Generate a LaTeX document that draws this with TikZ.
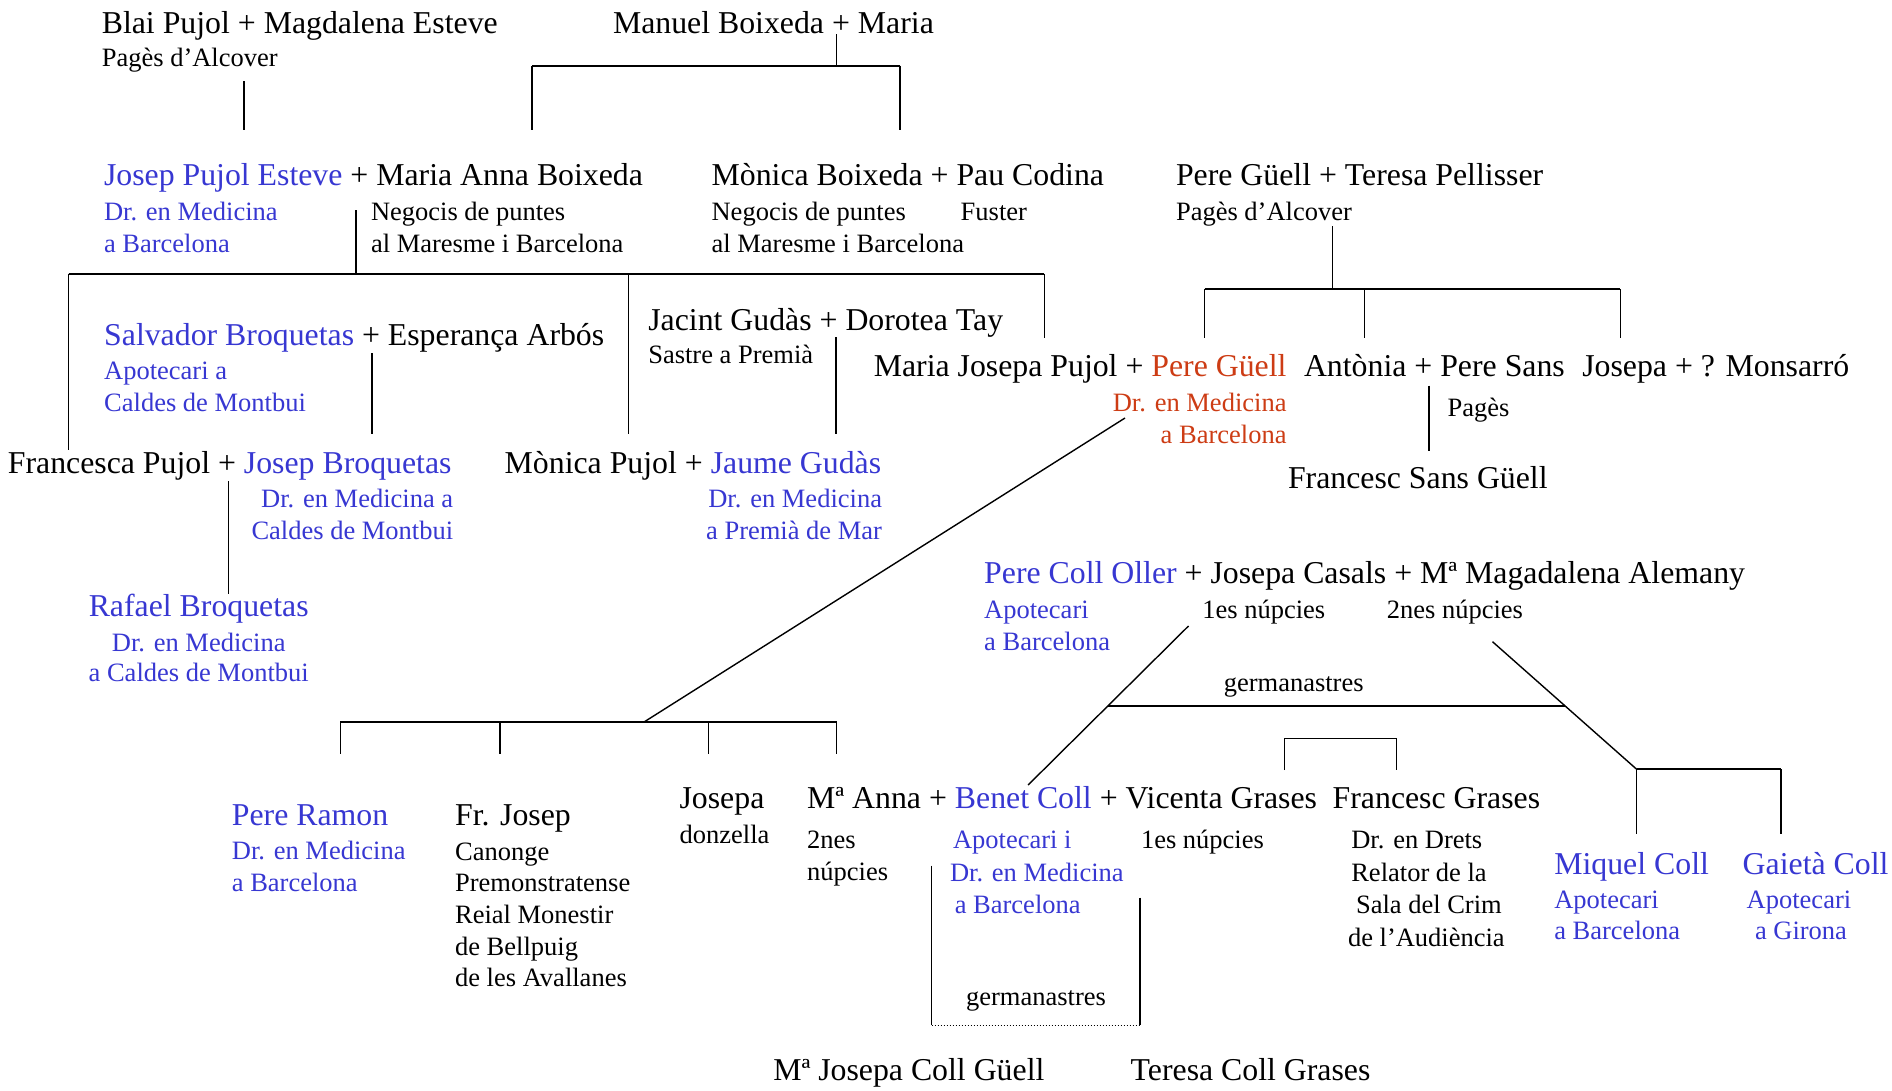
\documentclass[tikz,border=0pt]{standalone}
\usepackage{fontspec}
\setmainfont{Liberation Serif}
\usetikzlibrary{calc}
\definecolor{nblue}{RGB}{55,55,210}
\definecolor{nred}{RGB}{205,60,20}
\newcommand\mainsz{\fontsize{31.8}{36}\selectfont}
\newcommand\subsz{\fontsize{26.5}{30}\selectfont}
\newcommand\bl[1]{\textcolor{nblue}{#1}}
\newcommand\rd[1]{\textcolor{nred}{#1}}
\tikzset{
  nm/.style={inner sep=0pt, outer sep=0pt, anchor=base west, font=\mainsz},
  sb/.style={inner sep=0pt, outer sep=0pt, anchor=base west, font=\subsz},
  bsb/.style={sb, text=nblue},
  ln/.style={line width=1.4pt},
  bar/.style={line width=2pt},
  dotln/.style={line width=1pt, dotted},
}
\begin{document}
\begin{tikzpicture}[x=1pt,y=-1pt]
\path[use as bounding box, fill=white] (0,0) rectangle (1892,1090);

% ---------- generation 1 ----------
\node[nm] (blai) at (101.8,33.3) {Blai Pujol + Magdalena Esteve};
\node[sb] (blaiS) at (101.8,66.7) {Pagès d’Alcover};
\node[nm] (manuel) at (613,33.3) {Manuel Boixeda + Maria};
\node[nm] (pereG) at (1176,185.5) {Pere Güell + Teresa Pellisser};
\node[sb] (pereGS) at (1176,220) {Pagès d’Alcover};

% ---------- generation 2 ----------
\node[nm] (josep) at (104,185.5) {\bl{Josep Pujol Esteve} + Maria Anna Boixeda};
\node[bsb] (josepS1) at (104,220) {Dr. en Medicina};
\node[bsb] (josepS2) at (104,252) {a Barcelona};
\node[sb] (mannaS1) at (371,220) {Negocis de puntes};
\node[sb] (mannaS2) at (371,252) {al Maresme i Barcelona};
\node[nm] (monicaB) at (711.6,185.5) {Mònica Boixeda + Pau Codina};
\node[sb] (monicaBS1) at (711.6,220) {Negocis de puntes};
\node[sb] (pauS) at (960.7,220) {Fuster};
\node[sb] (monicaBS2) at (711.6,252) {al Maresme i Barcelona};

% ---------- in-laws ----------
\node[nm] (salvador) at (104.2,345) {\bl{Salvador Broquetas} + Esperança Arbós};
\node[bsb] (salvS1) at (104.2,379.3) {Apotecari a};
\node[bsb] (salvS2) at (104.2,411) {Caldes de Montbui};
\node[nm] (jacint) at (648.3,330) {Jacint Gudàs + Dorotea Tay};
\node[sb] (jacintS) at (648.3,363.3) {Sastre a Premià};

% ---------- generation 3 ----------
\node[nm, anchor=base east] (mjosepa) at (1286.5,376.7) {Maria Josepa Pujol + \rd{Pere Güell}};
\node[sb, text=nred, anchor=base east] (pgS1) at (1286.5,411.7) {Dr. en Medicina};
\node[sb, text=nred, anchor=base east] (pgS2) at (1286.5,443) {a Barcelona};
\node[nm] (antonia) at (1304,376.7) {Antònia + Pere Sans};
\node[nm] (josepaM) at (1582.3,376.7) {Josepa + ? Monsarró};
\node[sb] (antoniaS) at (1447.5,416.7) {Pagès};
\node[nm] (francescS) at (1288,488.3) {Francesc Sans Güell};

\node[nm] (francesca) at (7.9,473.3) {Francesca Pujol + \bl{Josep Broquetas}};
\node[bsb, anchor=base east] (jbS1) at (453.2,507.7) {Dr. en Medicina a};
\node[bsb, anchor=base east] (jbS2) at (453.2,539.3) {Caldes de Montbui};
\node[nm] (monicaP) at (504.7,473.3) {Mònica Pujol + \bl{Jaume Gudàs}};
\node[bsb, anchor=base east] (jgS1) at (882,507.7) {Dr. en Medicina};
\node[bsb, anchor=base east] (jgS2) at (882,539.3) {a Premià de Mar};

\node[nm, text=nblue, anchor=base] (rafael) at (198.7,616.7) {Rafael Broquetas};
\node[bsb, anchor=base] (rafS1) at (198.7,651) {Dr. en Medicina};
\node[bsb, anchor=base] (rafS2) at (198.7,681.7) {a Caldes de Montbui};

% ---------- Coll family ----------
\node[nm] (pereC) at (984.2,583.3) {\bl{Pere Coll Oller} + Josepa Casals + Mª Magadalena Alemany};
\node[bsb] (pcS1) at (984.2,618.3) {Apotecari};
\node[bsb] (pcS2) at (984.2,650) {a Barcelona};
\node[sb] (nup1) at (1202.3,618.3) {1es núpcies};
\node[sb] (nup2) at (1386.8,618.3) {2nes núpcies};
\node[sb, anchor=base] (germ1) at (1293.7,691) {germanastres};

% ---------- generation 4 ----------
\node[nm, text=nblue] (pereR) at (231.9,825) {Pere Ramon};
\node[bsb] (pereRS1) at (231.9,859.3) {Dr. en Medicina};
\node[bsb] (pereRS2) at (231.9,891.7) {a Barcelona};

\node[nm] (frJosep) at (455.1,825) {Fr. Josep};
\node[sb] (frS1) at (455.1,860) {Canonge};
\node[sb] (frS2) at (455.1,891.7) {Premonstratense};
\node[sb] (frS3) at (455.1,923.3) {Reial Monestir};
\node[sb] (frS4) at (455.1,955) {de Bellpuig};
\node[sb] (frS5) at (455.1,986.7) {de les Avallanes};

\node[nm] (josepaD) at (679.6,808.3) {Josepa};
\node[sb] (josepaDS) at (679.6,843.3) {donzella};

\node[nm] (manna) at (807.2,808.3) {Mª Anna + \bl{Benet Coll} + Vicenta Grases};
\node[nm] (francescG) at (1332.7,808.3) {Francesc Grases};
\node[sb] (mannaN1) at (807.2,848.3) {2nes};
\node[sb] (mannaN2) at (807.2,880) {núpcies};
\node[bsb] (benetS1) at (953,848.3) {Apotecari i};
\node[bsb] (benetS2) at (950,881.7) {Dr. en Medicina};
\node[bsb] (benetS3) at (954.8,913.3) {a Barcelona};
\node[sb] (vicentaN) at (1141,848.3) {1es núpcies};
\node[sb] (fgS1) at (1351.3,848.3) {Dr. en Drets};
\node[sb] (fgS2) at (1351.3,881.7) {Relator de la};
\node[sb] (fgS3) at (1356,913.3) {Sala del Crim};
\node[sb] (fgS4) at (1348,946) {de l’Audiència};

\node[nm, text=nblue] (miquel) at (1554.3,874) {Miquel Coll};
\node[bsb] (miquelS1) at (1554.3,908.3) {Apotecari};
\node[bsb] (miquelS2) at (1554.3,939.3) {a Barcelona};
\node[nm, text=nblue] (gaieta) at (1742.7,874) {Gaietà Coll};
\node[bsb] (gaietaS1) at (1746.7,908.3) {Apotecari};
\node[bsb] (gaietaS2) at (1755,939.3) {a Girona};

% ---------- generation 5 ----------
\node[sb, anchor=base] (germ2) at (1036,1005) {germanastres};
\node[nm] (mjcg) at (773.3,1080) {Mª Josepa Coll Güell};
\node[nm] (tcg) at (1130.7,1080) {Teresa Coll Grases};

% ================= connectors =================
% Blai Pujol -> Josep Pujol
\coordinate (blaiD) at (244,81);
\coordinate (josepU) at (244,130);
\draw[ln] (blaiD) -- (josepU);

% Manuel Boixeda -> children
\coordinate (manP) at (836.6,34);
\coordinate (manJ) at (836.6,65.7);
\coordinate (manL) at (532,65.7);
\coordinate (manR) at (900,65.7);
\coordinate (mannaU) at (532,130);
\coordinate (monicaBU) at (900,130);
\draw[ln] (manP) -- (manJ);
\draw[bar] (manL) -- (manR);
\draw[ln] (manL) -- (mannaU);
\draw[ln] (manR) -- (monicaBU);

% Josep Pujol + Maria Anna -> children
\coordinate (jpP) at (356,210);
\coordinate (jpJ) at (356,273.5);
\coordinate (jpL) at (68.5,273.5);
\coordinate (jpM) at (628.3,273.5);
\coordinate (jpR) at (1044.3,273.5);
\coordinate (francescaU) at (68.5,450);
\coordinate (monicaPU) at (628.3,434.3);
\coordinate (mjosepaU) at (1044.3,338.3);
\draw[ln] (jpP) -- (jpJ);
\draw[bar] (jpL) -- (jpR);
\draw[ln] (jpL) -- (francescaU);
\draw[ln] (jpM) -- (monicaPU);
\draw[ln] (jpR) -- (mjosepaU);

% Pere Guell + Teresa Pellisser -> children
\coordinate (pgP) at (1332.3,226);
\coordinate (pgJ) at (1332.3,289.3);
\coordinate (pgL) at (1204.6,289.3);
\coordinate (pgM) at (1364.7,289.3);
\coordinate (pgR) at (1620.3,289.3);
\coordinate (pgLd) at (1204.6,338.3);
\coordinate (pgMd) at (1364.7,338.3);
\coordinate (pgRd) at (1620.3,338.3);
\draw[ln] (pgP) -- (pgJ);
\draw[bar] (pgL) -- (pgR);
\draw[ln] (pgL) -- (pgLd);
\draw[ln] (pgM) -- (pgMd);
\draw[ln] (pgR) -- (pgRd);

% Salvador Broquetas -> Josep Broquetas
\coordinate (sbP) at (372,353.3);
\coordinate (jbU) at (372,434.3);
\draw[ln] (sbP) -- (jbU);

% Jacint Gudas -> Jaume Gudas
\coordinate (jgP) at (836.1,337.3);
\coordinate (jgU) at (836.1,434.3);
\draw[ln] (jgP) -- (jgU);

% Francesca + Josep Broquetas -> Rafael
\coordinate (fpP) at (228.4,481);
\coordinate (rafU) at (228.4,594.3);
\draw[ln] (fpP) -- (rafU);

% Antonia + Pere Sans -> Francesc Sans
\coordinate (apP) at (1428.8,385.7);
\coordinate (fsU) at (1428.8,450.7);
\draw[ln] (apP) -- (fsU);

% Maria Josepa + Pere Guell -> children
\coordinate (mjP) at (1125,418);
\coordinate (mjJ) at (644.5,721.7);
\coordinate (mjL) at (340.3,721.7);
\coordinate (mjA) at (499.8,721.7);
\coordinate (mjB) at (708.3,721.7);
\coordinate (mjR) at (836.5,721.7);
\draw[ln] (mjP) -- (mjJ);
\draw[bar] (mjL) -- (mjR);
\draw[ln] (mjL) -- ++(0,32.3);
\draw[ln] (mjA) -- ++(0,32.3);
\draw[ln] (mjB) -- ++(0,32.3);
\draw[ln] (mjR) -- ++(0,32.3);

% Pere Coll Oller -> sons
\coordinate (pc1) at (1188.5,626);
\coordinate (benetU) at (1028.1,785);
\coordinate (pc2) at (1492.5,641.7);
\coordinate (pc2J) at (1636.7,769.3);
\coordinate (pc2R) at (1780.9,769.3);
\coordinate (gL) at (1108.4,705.7);
\coordinate (gR) at (1564.6,705.7);
\draw[ln] (pc1) -- (benetU);
\draw[ln] (pc2) -- (pc2J);
\draw[bar] (gL) -- (gR);
\draw[bar] (pc2J) -- (pc2R);
\draw[ln] (pc2J) -- ++(0,65);
\draw[ln] (pc2R) -- ++(0,65);

% Vicenta & Francesc Grases siblings
\coordinate (vgU) at (1284.6,738.3);
\coordinate (fgU) at (1396.4,738.3);
\draw[ln] (vgU |- 0,770) -- (vgU) -- (fgU) -- (fgU |- 0,770);

% half-siblings bracket
\coordinate (hsL) at (931.6,865.7);
\coordinate (hsR) at (1140,897.7);
\coordinate (hsLb) at (931.6,1025);
\coordinate (hsRb) at (1140,1025);
\draw[ln] (hsL) -- (hsLb);
\draw[ln] (hsR) -- (hsRb);
\draw[dotln] (hsLb) -- (hsRb);
\end{tikzpicture}
\end{document}
